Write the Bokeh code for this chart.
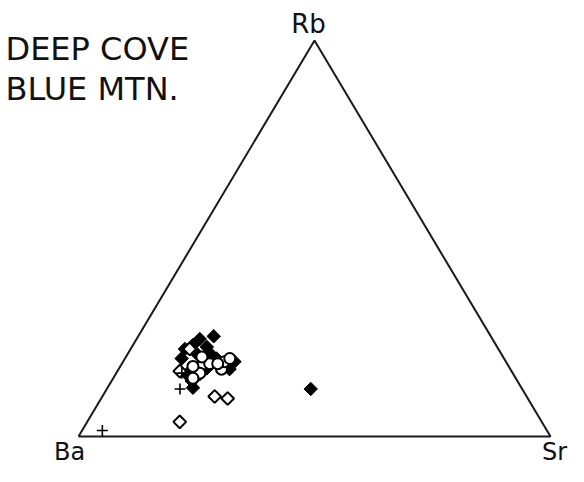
import math
from bokeh.plotting import figure
from bokeh.models import Range1d
from bokeh.core.properties import value
from bokeh.embed import file_html
from bokeh.resources import INLINE

# Ternary data, percent (Rb, Sr); Ba = 100 - Rb - Sr
filled_diamond_rb = [25.3, 24.6, 23.1, 22.1, 22.6, 19.7, 20.9, 20.6, 18.9, 17.0, 12.3, 14.0, 15.7, 15.7, 17.2, 19.7, 12.0]
filled_diamond_sr = [16.0, 13.4, 12.7, 11.5, 15.9, 12.0, 14.6, 17.9, 23.6, 23.5, 18.1, 17.0, 15.1, 17.8, 18.6, 19.4, 43.2]

open_circle_rb = [18.2, 16.0, 14.7, 17.0, 18.9, 19.7, 18.4, 17.7, 20.1, 18.4]
open_circle_sr = [17.2, 17.7, 16.9, 21.8, 21.5, 22.2, 18.6, 15.4, 16.1, 20.3]

open_diamond_rb = [22.1, 16.5, 10.1, 9.6, 3.7]
open_diamond_sr = [12.5, 13.2, 23.8, 26.8, 19.6]

plus_rb = [12.0, 16.0, 1.5]
plus_sr = [15.5, 13.9, 4.3]

corner_labels = ["Ba", "Sr", "Rb"]
corner_rb = [0.0, 0.0, 100.0]
corner_sr = [0.0, 100.0, 0.0]

title_lines = ["DEEP COVE", "BLUE MTN."]


def tern(rb, sr):
    xs = [(s + r / 2.0) / 100.0 for r, s in zip(rb, sr)]
    ys = [r / 100.0 for r in rb]
    return xs, ys


W, H = 568, 466
XS, YS = 472.0, 396.0   # px per unit
X0, Y0 = 78.0, 436.0    # canvas px of Ba corner


def dx(px):
    return px / XS


def dy(py):
    return py / YS


p = figure(width=W, height=H, output_backend="svg", toolbar_location=None,
           x_range=Range1d(-X0 / XS, (W - X0) / XS),
           y_range=Range1d(-(H - Y0) / YS, Y0 / YS),
           min_border=0, min_border_left=0, min_border_right=0,
           min_border_top=0, min_border_bottom=0)
p.axis.visible = False
p.grid.visible = False
p.outline_line_color = None
p.background_fill_color = "white"
p.border_fill_color = "white"

cx, cy = tern(corner_rb, corner_sr)
p.line(cx + [cx[0]], cy + [cy[0]], line_color="#1a1a1a", line_width=2)

fx, fy = tern(filled_diamond_rb, filled_diamond_sr)
p.scatter(fx, fy, marker="square", angle=math.pi / 4, size=9.5,
          fill_color="black", line_color="black", line_width=1)

ox, oy = tern(open_circle_rb, open_circle_sr)
p.scatter(ox, oy, marker="circle", size=11, fill_color="white",
          line_color="black", line_width=2)

ddx, ddy = tern(open_diamond_rb, open_diamond_sr)
p.scatter(ddx, ddy, marker="square", angle=math.pi / 4, size=9,
          fill_color="white", line_color="black", line_width=2)

px_, py_ = tern(plus_rb, plus_sr)
p.scatter(px_, py_, marker="cross", size=11, line_color="black", line_width=1.6)

# corner labels: offsets in px from the corners
lab_dx = [-9.0, 4.0, -6.0]
lab_dy = [-15.0, -15.0, 17.0]
lab_size = ["24px", "24px", "26px"]
for t, x, y, ox_, oy_, fs in zip(corner_labels, cx, cy, lab_dx, lab_dy, lab_size):
    p.text([x + dx(ox_)], [y + dy(oy_)], text=[t], text_align="center", text_baseline="middle",
           text_font=value("DejaVu Sans"), text_font_size=fs, text_color="#111")

# title lines (canvas px)
tx = [dx(5.0 - X0)] * 2
ty = [dy(Y0 - 48.5), dy(Y0 - 88.0)]
p.text(tx, ty, text=title_lines, text_align="left", text_baseline="middle",
       text_font=value("DejaVu Sans"), text_font_size="32px", text_color="#111")

open("out.html", "w").write(file_html(p, INLINE))
